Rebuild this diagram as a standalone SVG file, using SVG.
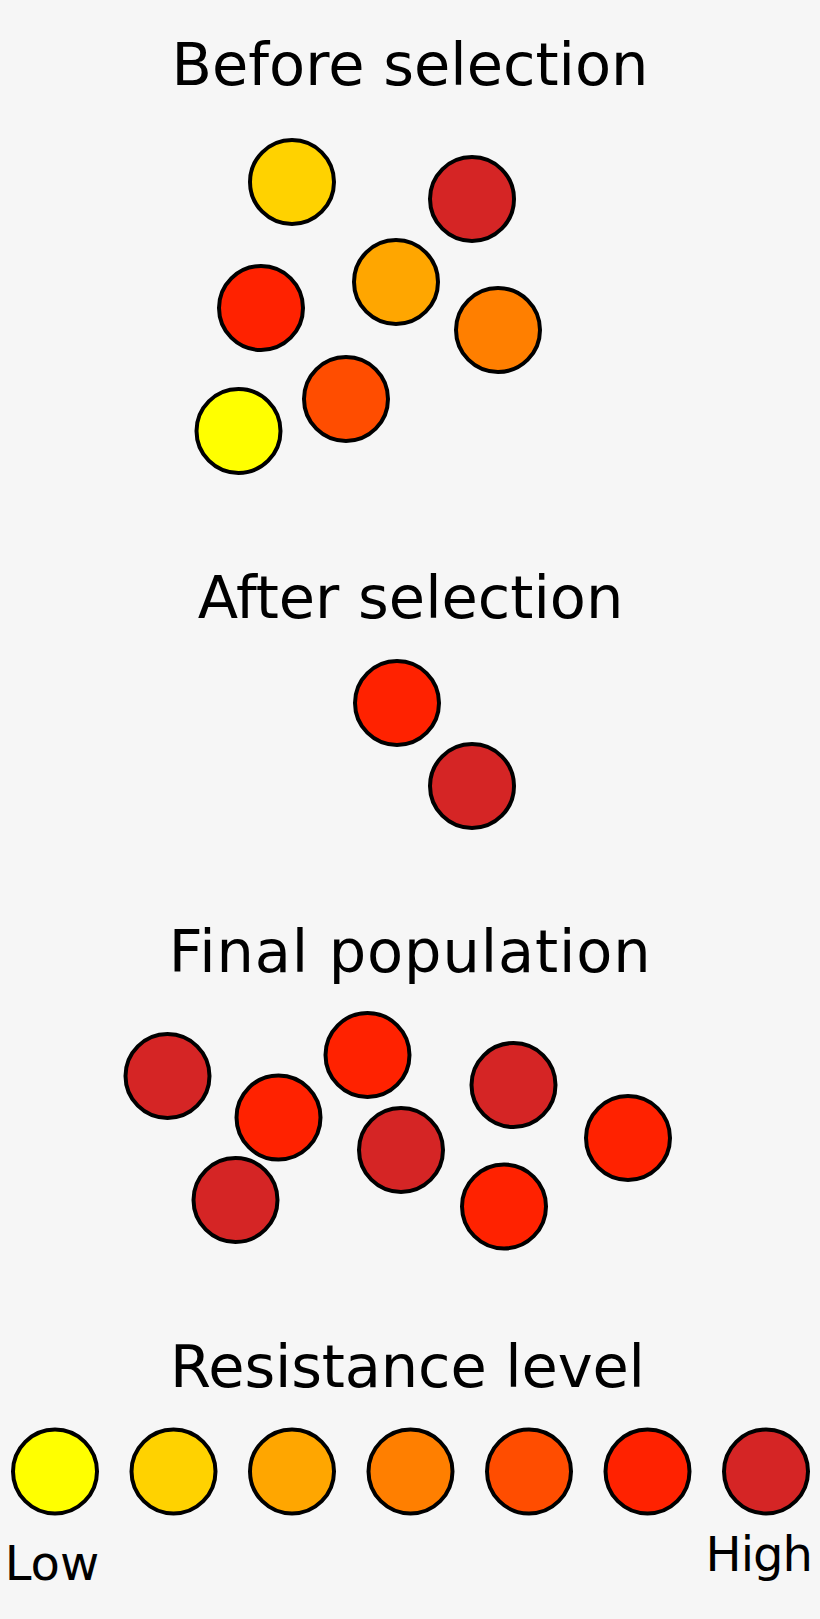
<svg xmlns="http://www.w3.org/2000/svg" width="820" height="1619" viewBox="0 0 820 1619">
  <style>
    .t { font-family: "DejaVu Sans", sans-serif; font-size: 59px; fill: #000; text-anchor: middle; }
    .s { font-family: "DejaVu Sans", sans-serif; font-size: 48px; fill: #000; }
    circle { stroke: #000; stroke-width: 4; }
    .c1 { fill: #FFFF00; }
    .c2 { fill: #FFD200; }
    .c3 { fill: #FFA600; }
    .c4 { fill: #FF7F00; }
    .c5 { fill: #FF4D00; }
    .c6 { fill: #FF2200; }
    .c7 { fill: #D52525; }
  </style>
  <rect width="820" height="1619" fill="#F6F6F6"/>

  <g id="before">
    <text class="t" x="410" y="85">Before selection</text>
    <circle class="c2" cx="292" cy="182" r="42"/>
    <circle class="c7" cx="472" cy="199" r="42"/>
    <circle class="c6" cx="261" cy="308" r="42"/>
    <circle class="c3" cx="396" cy="282" r="42"/>
    <circle class="c4" cx="498" cy="330" r="42"/>
    <circle class="c5" cx="346" cy="399" r="42"/>
    <circle class="c1" cx="238.5" cy="431" r="42"/>
  </g>

  <g id="after">
    <text class="t" x="410.5" y="618">After selection</text>
    <circle class="c6" cx="397" cy="703" r="42"/>
    <circle class="c7" cx="472" cy="786" r="42"/>
  </g>

  <g id="final">
    <text class="t" x="409.7" y="972" textLength="482" lengthAdjust="spacing">Final population</text>
    <circle class="c7" cx="167.5" cy="1076" r="42"/>
    <circle class="c6" cx="278.5" cy="1117.5" r="42"/>
    <circle class="c6" cx="367.5" cy="1055" r="42"/>
    <circle class="c7" cx="513.5" cy="1085" r="42"/>
    <circle class="c6" cx="628" cy="1138" r="42"/>
    <circle class="c7" cx="401" cy="1150" r="42"/>
    <circle class="c7" cx="235.5" cy="1200" r="42"/>
    <circle class="c6" cx="504" cy="1206.5" r="42"/>
  </g>

  <g id="legend">
    <text class="t" x="407.5" y="1387" textLength="475" lengthAdjust="spacing">Resistance level</text>
    <circle class="c1" cx="55" cy="1471.5" r="42"/>
    <circle class="c2" cx="173.5" cy="1471.5" r="42"/>
    <circle class="c3" cx="292" cy="1471.5" r="42"/>
    <circle class="c4" cx="410.5" cy="1471.5" r="42"/>
    <circle class="c5" cx="529" cy="1471.5" r="42"/>
    <circle class="c6" cx="647.5" cy="1471.5" r="42"/>
    <circle class="c7" cx="766" cy="1471.5" r="42"/>
    <text class="s" x="4.7" y="1580">Low</text>
    <text class="s" x="705.5" y="1570.5" textLength="107.5" lengthAdjust="spacing">High</text>
  </g>
</svg>
